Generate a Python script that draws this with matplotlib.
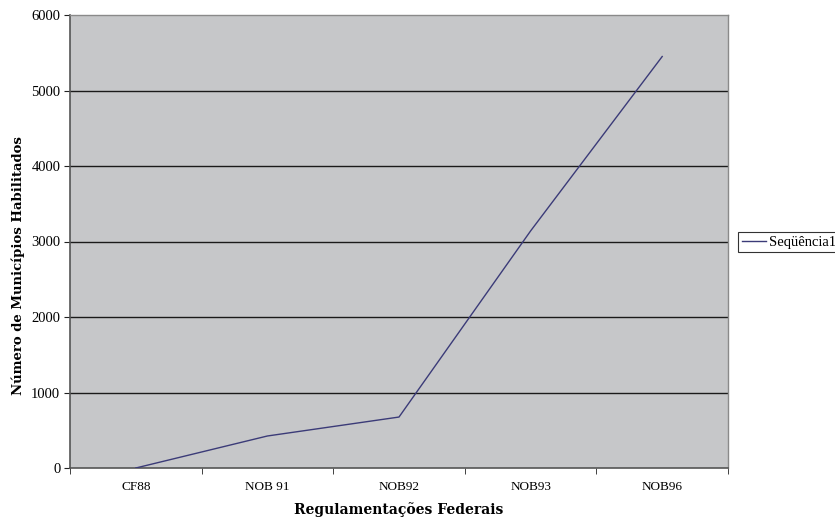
import matplotlib
matplotlib.use("Agg")
import matplotlib.pyplot as plt
import numpy as np

categories = ["CF88", "NOB 91", "NOB92", "NOB93", "NOB96"]
values = [0, 424, 675, 3140, 5450]
series_name = "Seqüência1"
yticks = [0, 1000, 2000, 3000, 4000, 5000, 6000]

plt.rcParams['font.family'] = ['Liberation Serif', 'DejaVu Serif']

fig = plt.figure(figsize=(8.35, 5.19), dpi=100)
W, H = 835, 519
ax = fig.add_axes([70 / W, 1 - 468 / H, (728 - 70) / W, (468 - 15) / H])
ax.set_facecolor("#c6c7c9")

x = np.arange(len(categories))
ax.plot(x, values, color="#3b3b78", lw=1.0, label=series_name, zorder=3)

ax.set_xlim(-0.5, len(categories) - 0.5)
ax.set_ylim(0, 6000)
ax.set_yticks(yticks)
ax.set_yticklabels([str(v) for v in yticks], fontsize=10.5)
ax.set_xticks(x)
ax.set_xticklabels(categories, fontsize=9.5)
ax.set_xticks(np.arange(-0.5, len(categories)), minor=True)
ax.tick_params(axis='x', which='major', length=0, pad=9)
ax.tick_params(axis='x', which='minor', length=4, direction='out', color='#222222')
ax.tick_params(axis='y', length=4, direction='out', color='#222222', pad=3)

for v in yticks[1:-1]:
    ax.axhline(v, color="#1a1a1a", lw=1.0, zorder=2)

for s in ["left", "bottom"]:
    ax.spines[s].set_color("#555555")
    ax.spines[s].set_linewidth(1.2)
for s in ["right", "top"]:
    ax.spines[s].set_color("#8a8a8a")
    ax.spines[s].set_linewidth(1.0)

ax.set_xlabel("Regulamentações Federais", fontsize=10, fontweight='bold', labelpad=7,
              family=['DejaVu Serif'])
ax.set_ylabel("Número de Municípios Habilitados", fontsize=9.5, fontweight='bold',
              family=['DejaVu Serif'])
ax.yaxis.set_label_coords(-0.069, 0.446)

leg = fig.legend(loc='center left', bbox_to_anchor=(738 / W, 1 - 242 / H),
                 prop={'size': 10.5, 'family': ['Liberation Serif']},
                 frameon=True, fancybox=False, edgecolor='black', handlelength=1.7,
                 borderpad=0.25, handletextpad=0.15, borderaxespad=0)
leg.get_frame().set_linewidth(0.8)

fig.savefig("out.png", dpi=100)
